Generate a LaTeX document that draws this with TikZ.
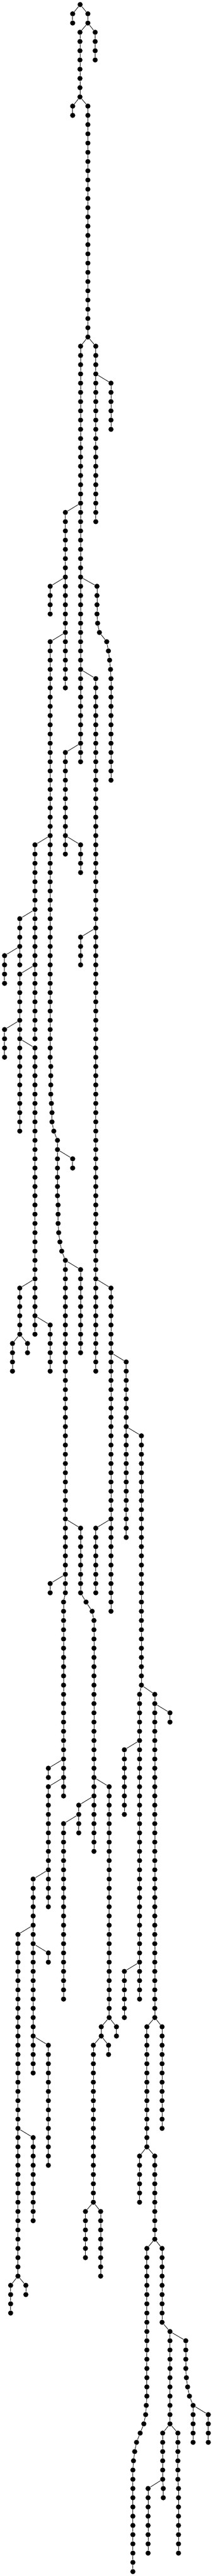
\documentclass[tikz,border=0pt]{standalone}
\usepackage{tikz}

\tikzset{
  dot/.style={circle, fill=black, inner sep=0pt, minimum size=5.6pt},
  twig/.style={line width=0.5pt}
}

% straight run of dots: name, x, first level, last level
\newcommand{\strand}[4]{%
  \foreach \lv in {#3,...,#4}
    \node[dot] (#1-\lv) at (#2,\lv) {};
  \pgfmathtruncatemacro\strandnext{#3+1}%
  \foreach \lv in {\strandnext,...,#4}{%
    \pgfmathtruncatemacro\lvup{\lv-1}%
    \draw[twig] (#1-\lvup) -- (#1-\lv);
  }%
}
% bending run: name, first level, list of x
\newcommand{\bentstrand}[3]{%
  \foreach \bx [count=\bi from 0] in {#3}{%
    \pgfmathtruncatemacro\lv{#2+\bi}%
    \node[dot] (#1-\lv) at (\bx,\lv) {};
    \ifnum\bi>0
      \pgfmathtruncatemacro\lvup{\lv-1}%
      \draw[twig] (#1-\lvup) -- (#1-\lv);
    \fi
  }%
}

\begin{document}
\begin{tikzpicture}[x=0.16667pt, y=-10.1335pt]
    \useasboundingbox (0,-0.4934) rectangle (1401,278.48);

    % Root and first forks
    \node[dot] (r) at (527,0) {};
    \strand{a}{478}{1}{2}
    \strand{b}{578}{1}{2}
    \draw[twig] (r) -- (a-1);
    \draw[twig] (r) -- (b-1);
    \strand{c}{626}{3}{6}
    \strand{d}{526}{3}{10}
    \draw[twig] (b-2) -- (c-3);
    \draw[twig] (b-2) -- (d-3);
    \strand{e}{478}{11}{12}
    \strand{f}{578}{11}{36}
    \draw[twig] (d-10) -- (e-11);
    \draw[twig] (d-10) -- (f-11);

    % Upper trunk
    \strand{g}{530}{37}{82}
    \strand{h}{630}{37}{56}
    \draw[twig] (f-36) -- (g-37);
    \draw[twig] (f-36) -- (h-37);
    \strand{i}{730}{41}{46}
    \draw[twig] (h-40) -- (i-41);
    \strand{j}{430}{55}{74}
    \draw[twig] (g-54) -- (j-55);
    \bentstrand{k}{63}{638,638,638,638,642,654,702,713,721,727}
    \strand{k}{730}{73}{84}
    \draw[twig] (k-72) -- (k-73);
    \draw[twig] (g-62) -- (k-63);
    \strand{l}{330}{63}{66}
    \draw[twig] (j-62) -- (l-63);

    % Long middle stem
    \strand{m}{330}{69}{114}
    \bentstrand{m}{115}{334,334,334,334,338,342,342,354,378,378,378,378,378,378,378,382,382,382,386,394,406}
    \strand{m}{430}{136}{172}
    \strand{m}{418}{173}{194}
    \draw[twig] (m-114) -- (m-115);
    \draw[twig] (m-135) -- (m-136);
    \draw[twig] (m-172) -- (m-173);
    \draw[twig] (j-68) -- (m-69);
    \strand{n}{630}{73}{148}
    \draw[twig] (g-72) -- (n-73);
    \strand{o}{430}{81}{92}
    \draw[twig] (g-80) -- (o-81);
    \strand{p}{230}{91}{112}
    \draw[twig] (m-90) -- (p-91);
    \strand{q}{530}{91}{94}
    \draw[twig] (o-90) -- (q-91);
    \strand{s}{530}{101}{104}
    \draw[twig] (n-100) -- (s-101);

    % Left side
    \strand{t}{130}{99}{104}
    \draw[twig] (p-98) -- (t-99);
    \strand{u}{30}{103}{106}
    \draw[twig] (t-102) -- (u-103);
    \strand{v}{130}{105}{122}
    \draw[twig] (p-104) -- (v-105);
    \strand{w}{30}{111}{114}
    \draw[twig] (v-110) -- (w-111);
    \strand{y}{230}{113}{144}
    \draw[twig] (v-112) -- (y-113);
    \strand{z}{478}{125}{126}
    \draw[twig] (m-124) -- (z-125);
    \strand{aa}{530}{137}{146}
    \draw[twig] (m-136) -- (aa-137);
    \strand{ab}{130}{139}{144}
    \draw[twig] (y-138) -- (ab-139);
    \strand{ac}{82}{145}{148}
    \strand{ad}{181}{145}{146}
    \draw[twig] (ab-144) -- (ac-145);
    \draw[twig] (ab-144) -- (ad-145);
    \strand{ae}{330}{143}{148}
    \draw[twig] (y-142) -- (ae-143);

    % Right side
    \strand{af}{730}{139}{174}
    \draw[twig] (n-138) -- (af-139);
    \strand{ag}{830}{147}{166}
    \draw[twig] (af-146) -- (ag-147);
    \strand{ah}{930}{155}{182}
    \draw[twig] (ag-154) -- (ah-155);
    \strand{ai}{530}{165}{172}
    \bentstrand{ai}{173}{566,606}
    \strand{ai}{618}{175}{200}
    \draw[twig] (ai-172) -- (ai-173);
    \draw[twig] (ai-174) -- (ai-175);
    \draw[twig] (m-164) -- (ai-165);
    \strand{aj}{330}{171}{172}
    \draw[twig] (m-170) -- (aj-171);
    \strand{ak}{630}{165}{172}
    \draw[twig] (af-164) -- (ak-165);
    \strand{al}{918}{183}{216}
    \strand{am}{1018}{183}{218}
    \draw[twig] (ah-182) -- (al-183);
    \draw[twig] (ah-182) -- (am-183);
    \strand{an}{1118}{185}{186}
    \draw[twig] (am-184) -- (an-185);

    % Lower branches
    \strand{ao}{318}{191}{192}
    \draw[twig] (m-190) -- (ao-191);
    \strand{ap}{318}{193}{206}
    \draw[twig] (m-192) -- (ap-193);
    \strand{aq}{218}{203}{224}
    \draw[twig] (ap-202) -- (aq-203);
    \strand{ar}{118}{209}{246}
    \draw[twig] (aq-208) -- (ar-209);
    \strand{as}{718}{193}{218}
    \draw[twig] (ai-192) -- (as-193);
    \strand{au}{518}{195}{198}
    \draw[twig] (ai-194) -- (au-195);
    \strand{av}{418}{197}{216}
    \draw[twig] (au-196) -- (av-197);
    \strand{aw}{818}{189}{196}
    \draw[twig] (al-188) -- (aw-189);
    \strand{ax}{318}{211}{212}
    \draw[twig] (aq-210) -- (ax-211);
    \strand{ay}{318}{221}{234}
    \draw[twig] (aq-220) -- (ay-221);
    \strand{az}{766}{219}{220}
    \strand{ba}{666}{219}{220}
    \draw[twig] (as-218) -- (az-219);
    \draw[twig] (as-218) -- (ba-219);
    \strand{bb}{714}{221}{222}
    \strand{bc}{614}{221}{238}
    \draw[twig] (ba-220) -- (bb-221);
    \draw[twig] (ba-220) -- (bc-221);
    \strand{bd}{818}{213}{218}
    \draw[twig] (al-212) -- (bd-213);
    \strand{be}{1066}{219}{230}
    \strand{bf}{966}{219}{232}
    \draw[twig] (am-218) -- (be-219);
    \draw[twig] (am-218) -- (bf-219);
    \strand{bg}{218}{231}{240}
    \draw[twig] (ar-230) -- (bg-231);
    \strand{bh}{918}{233}{238}
    \strand{bi}{1018}{233}{242}
    \draw[twig] (bf-232) -- (bh-233);
    \draw[twig] (bf-232) -- (bi-233);
    \strand{bj}{70}{247}{250}
    \strand{bk}{170}{247}{248}
    \draw[twig] (ar-246) -- (bj-247);
    \draw[twig] (ar-246) -- (bk-247);
    \strand{bl}{562}{239}{244}
    \strand{bm}{662}{239}{246}
    \draw[twig] (bc-238) -- (bl-239);
    \draw[twig] (bc-238) -- (bm-239);

    % Bottom fan
    \strand{bn}{966}{243}{259}
    \bentstrand{bn}{260}{962,958,946,922,898,886,878}
    \strand{bn}{874}{267}{278}
    \draw[twig] (bn-259) -- (bn-260);
    \draw[twig] (bn-266) -- (bn-267);
    \draw[twig] (bi-242) -- (bn-243);
    \strand{bo}{1066}{243}{251}
    \strand{bo}{1118}{252}{262}
    \draw[twig] (bo-251) -- (bo-252);
    \draw[twig] (bi-242) -- (bo-243);
    \strand{bp}{1222}{253}{256}
    \bentstrand{bp}{257}{1226,1234,1246}
    \strand{bp}{1270}{260}{264}
    \draw[twig] (bp-256) -- (bp-257);
    \draw[twig] (bp-259) -- (bp-260);
    \draw[twig] (bo-252) -- (bp-253);
    \strand{bq}{1370}{261}{264}
    \draw[twig] (bp-260) -- (bq-261);
    \strand{br}{1070}{263}{268}
    \strand{br}{1074}{269}{270}
    \draw[twig] (br-268) -- (br-269);
    \draw[twig] (bo-262) -- (br-263);
    \strand{bs}{974}{269}{276}
    \draw[twig] (br-268) -- (bs-269);
    \strand{bt}{1170}{263}{268}
    \strand{bt}{1174}{269}{276}
    \draw[twig] (bt-268) -- (bt-269);
    \draw[twig] (bo-262) -- (bt-263);
\end{tikzpicture}
\end{document}
